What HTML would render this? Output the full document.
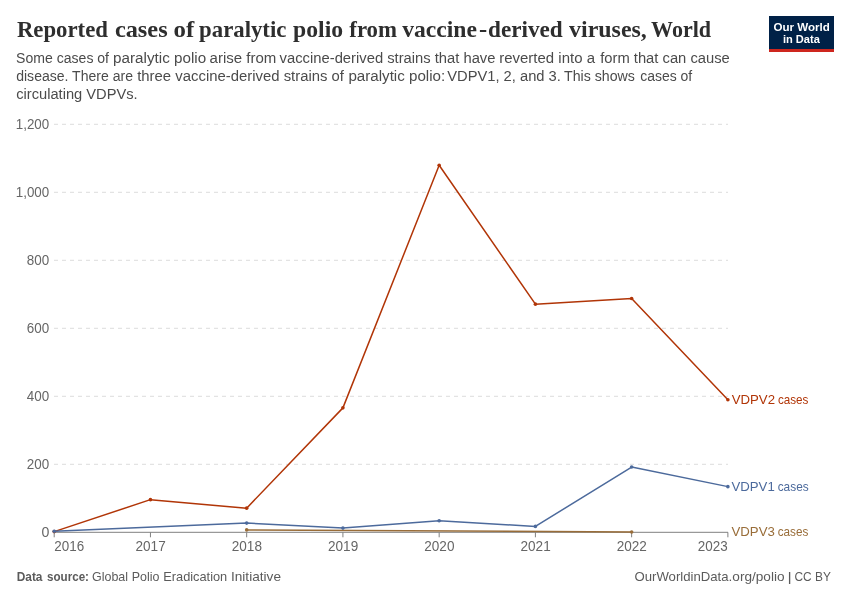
<!DOCTYPE html>
<html lang="en"><head><meta charset="utf-8"><title>Reported cases of paralytic polio from vaccine-derived viruses, World</title>
<style>
html,body{margin:0;padding:0;background:#fff;}
body{width:850px;height:600px;overflow:hidden;}
svg{display:block;}
text{font-family:"Liberation Sans",sans-serif;}
.title text{font-family:"Liberation Serif",serif;font-weight:bold;}
.b{font-weight:bold;}
</style></head><body>
<svg width="850" height="600" viewBox="0 0 850 600">
<rect width="850" height="600" fill="#fff"/>
<g class="title" font-size="24px" fill="#2e2e2e">
<text y="36.8"><tspan x="16.9" textLength="91.08" lengthAdjust="spacingAndGlyphs">Reported</tspan> <tspan x="114.9" textLength="52.74" lengthAdjust="spacingAndGlyphs">cases</tspan> <tspan x="173.5" textLength="20.66" lengthAdjust="spacingAndGlyphs">of</tspan> <tspan x="199.1" textLength="87.27" lengthAdjust="spacingAndGlyphs">paralytic</tspan> <tspan x="293.1" textLength="50" lengthAdjust="spacingAndGlyphs">polio</tspan> <tspan x="349.3" textLength="47.69" lengthAdjust="spacingAndGlyphs">from</tspan> <tspan x="402.2" textLength="74.76" lengthAdjust="spacingAndGlyphs">vaccine</tspan><tspan x="479.1" textLength="8.19" lengthAdjust="spacingAndGlyphs">-</tspan><tspan x="488.1" textLength="74.67" lengthAdjust="spacingAndGlyphs">derived</tspan> <tspan x="569.1" textLength="77.7" lengthAdjust="spacingAndGlyphs">viruses,</tspan> <tspan x="651.1" textLength="60" lengthAdjust="spacingAndGlyphs">World</tspan></text>
</g>
<g class="sub1" font-size="15.4px" fill="#4b4b4b">
<text y="62.6"><tspan x="16.1" textLength="92.94" lengthAdjust="spacingAndGlyphs">Some cases of</tspan> <tspan x="113.1" textLength="93.05" lengthAdjust="spacingAndGlyphs">paralytic polio</tspan> <tspan x="209.6" textLength="66.8" lengthAdjust="spacingAndGlyphs">arise from</tspan> <tspan x="279.6" textLength="103.54" lengthAdjust="spacingAndGlyphs">vaccine-derived</tspan> <tspan x="387.2" textLength="108.24" lengthAdjust="spacingAndGlyphs">strains that have</tspan> <tspan x="499.23" textLength="95.74" lengthAdjust="spacingAndGlyphs">reverted into a</tspan> <tspan x="600.2" textLength="129.64" lengthAdjust="spacingAndGlyphs">form that can cause</tspan></text>
</g>
<g class="sub2" font-size="15.4px" fill="#4b4b4b">
<text y="80.6"><tspan x="16.2" textLength="116.81" lengthAdjust="spacingAndGlyphs">disease. There are</tspan> <tspan x="137.2" textLength="142.44" lengthAdjust="spacingAndGlyphs">three vaccine-derived</tspan> <tspan x="283.7" textLength="60.2" lengthAdjust="spacingAndGlyphs">strains of</tspan> <tspan x="348.4" textLength="96.86" lengthAdjust="spacingAndGlyphs">paralytic polio:</tspan> <tspan x="447.2" textLength="113.72" lengthAdjust="spacingAndGlyphs">VDPV1, 2, and 3.</tspan> <tspan x="564" textLength="70.92" lengthAdjust="spacingAndGlyphs">This shows</tspan> <tspan x="640.2" textLength="52.04" lengthAdjust="spacingAndGlyphs">cases of</tspan></text>
</g>
<g class="sub3" font-size="15.4px" fill="#4b4b4b">
<text y="98.6"><tspan x="16.2" textLength="121.42" lengthAdjust="spacingAndGlyphs">circulating VDPVs.</tspan></text>
</g>
<rect x="769" y="16" width="65" height="36" fill="#002147"/><rect x="769" y="49" width="65" height="3" fill="#ce261e"/>
<g class="logo" font-size="11.8px" fill="#fff">
<text y="30.7"><tspan x="773.5" textLength="56.4" lengthAdjust="spacingAndGlyphs" class="b">Our World</tspan></text>
<text y="42.7"><tspan x="782.9" textLength="36.99" lengthAdjust="spacingAndGlyphs" class="b">in Data</tspan></text>
</g>
<line x1="54" x2="728" y1="464.3" y2="464.3" stroke="#ddd" stroke-width="1" stroke-dasharray="4,4"/>
<line x1="54" x2="728" y1="396.3" y2="396.3" stroke="#ddd" stroke-width="1" stroke-dasharray="4,4"/>
<line x1="54" x2="728" y1="328.3" y2="328.3" stroke="#ddd" stroke-width="1" stroke-dasharray="4,4"/>
<line x1="54" x2="728" y1="260.3" y2="260.3" stroke="#ddd" stroke-width="1" stroke-dasharray="4,4"/>
<line x1="54" x2="728" y1="192.3" y2="192.3" stroke="#ddd" stroke-width="1" stroke-dasharray="4,4"/>
<line x1="54" x2="728" y1="124.3" y2="124.3" stroke="#ddd" stroke-width="1" stroke-dasharray="4,4"/>
<g class="ytick" font-size="14px" fill="#666">
<text y="536.8"><tspan x="41.6" textLength="7.88" lengthAdjust="spacingAndGlyphs">0</tspan></text>
<text y="468.8"><tspan x="26.8" textLength="22.39" lengthAdjust="spacingAndGlyphs">200</tspan></text>
<text y="400.8"><tspan x="26.8" textLength="22.39" lengthAdjust="spacingAndGlyphs">400</tspan></text>
<text y="332.8"><tspan x="26.8" textLength="22.39" lengthAdjust="spacingAndGlyphs">600</tspan></text>
<text y="264.8"><tspan x="26.8" textLength="22.39" lengthAdjust="spacingAndGlyphs">800</tspan></text>
<text y="196.8"><tspan x="15.75" textLength="33.45" lengthAdjust="spacingAndGlyphs">1,000</tspan></text>
<text y="128.8"><tspan x="15.75" textLength="33.45" lengthAdjust="spacingAndGlyphs">1,200</tspan></text>
</g>
<line x1="54" x2="728" y1="532.3" y2="532.3" stroke="#808080" stroke-width="1"/>
<line x1="54.2" x2="54.2" y1="532.3" y2="537.3" stroke="#808080" stroke-width="1"/>
<line x1="150.44" x2="150.44" y1="532.3" y2="537.3" stroke="#808080" stroke-width="1"/>
<line x1="246.68" x2="246.68" y1="532.3" y2="537.3" stroke="#808080" stroke-width="1"/>
<line x1="342.92" x2="342.92" y1="532.3" y2="537.3" stroke="#808080" stroke-width="1"/>
<line x1="439.16" x2="439.16" y1="532.3" y2="537.3" stroke="#808080" stroke-width="1"/>
<line x1="535.4" x2="535.4" y1="532.3" y2="537.3" stroke="#808080" stroke-width="1"/>
<line x1="631.64" x2="631.64" y1="532.3" y2="537.3" stroke="#808080" stroke-width="1"/>
<line x1="727.88" x2="727.88" y1="532.3" y2="537.3" stroke="#808080" stroke-width="1"/>
<g class="xtick" font-size="14px" fill="#666">
<text y="550.5"><tspan x="54.3" textLength="29.89" lengthAdjust="spacingAndGlyphs">2016</tspan> <tspan x="135.54" textLength="30.19" lengthAdjust="spacingAndGlyphs">2017</tspan> <tspan x="231.78" textLength="30.19" lengthAdjust="spacingAndGlyphs">2018</tspan> <tspan x="328.02" textLength="30.19" lengthAdjust="spacingAndGlyphs">2019</tspan> <tspan x="424.26" textLength="30.19" lengthAdjust="spacingAndGlyphs">2020</tspan> <tspan x="520.5" textLength="30.19" lengthAdjust="spacingAndGlyphs">2021</tspan> <tspan x="616.74" textLength="30.19" lengthAdjust="spacingAndGlyphs">2022</tspan> <tspan x="697.8" textLength="29.89" lengthAdjust="spacingAndGlyphs">2023</tspan></text>
</g>
<polyline fill="none" stroke="#996D39" stroke-width="1.5" stroke-linejoin="round" stroke-linecap="round" points="246.68,529.92 631.64,531.96"/><circle cx="246.68" cy="529.92" r="1.8" fill="#996D39"/><circle cx="631.64" cy="531.96" r="1.8" fill="#996D39"/>
<polyline fill="none" stroke="#B13507" stroke-width="1.5" stroke-linejoin="round" stroke-linecap="round" points="54.2,531.62 150.44,499.66 246.68,508.16 342.92,407.86 439.16,165.2 535.4,304.16 631.64,298.52 727.88,399.7"/><circle cx="54.2" cy="531.62" r="1.8" fill="#B13507"/><circle cx="150.44" cy="499.66" r="1.8" fill="#B13507"/><circle cx="246.68" cy="508.16" r="1.8" fill="#B13507"/><circle cx="342.92" cy="407.86" r="1.8" fill="#B13507"/><circle cx="439.16" cy="165.2" r="1.8" fill="#B13507"/><circle cx="535.4" cy="304.16" r="1.8" fill="#B13507"/><circle cx="631.64" cy="298.52" r="1.8" fill="#B13507"/><circle cx="727.88" cy="399.7" r="1.8" fill="#B13507"/>
<polyline fill="none" stroke="#4C6A9C" stroke-width="1.5" stroke-linejoin="round" stroke-linecap="round" points="54.2,531.28 246.68,523.12 342.92,528.08 439.16,520.74 535.4,526.42 631.64,467.02 727.88,486.64"/><circle cx="54.2" cy="531.28" r="1.8" fill="#4C6A9C"/><circle cx="246.68" cy="523.12" r="1.8" fill="#4C6A9C"/><circle cx="342.92" cy="528.08" r="1.8" fill="#4C6A9C"/><circle cx="439.16" cy="520.74" r="1.8" fill="#4C6A9C"/><circle cx="535.4" cy="526.42" r="1.8" fill="#4C6A9C"/><circle cx="631.64" cy="467.02" r="1.8" fill="#4C6A9C"/><circle cx="727.88" cy="486.64" r="1.8" fill="#4C6A9C"/>
<g class="lab" font-size="13.5px" fill="#B13507">
<text y="404.3"><tspan x="731.7" textLength="43.3" lengthAdjust="spacingAndGlyphs">VDPV2</tspan> <tspan x="777.9" textLength="30.48" lengthAdjust="spacingAndGlyphs">cases</tspan></text>
<text y="491.2"><tspan x="731.5" textLength="43.25" lengthAdjust="spacingAndGlyphs" fill="#4C6A9C">VDPV1</tspan> <tspan x="777.7" textLength="30.98" lengthAdjust="spacingAndGlyphs" fill="#4C6A9C">cases</tspan></text>
<text y="536.3"><tspan x="731.5" textLength="43.3" lengthAdjust="spacingAndGlyphs" fill="#996D39">VDPV3</tspan> <tspan x="777.7" textLength="30.68" lengthAdjust="spacingAndGlyphs" fill="#996D39">cases</tspan></text>
</g>
<g class="foot" font-size="13px" fill="#5b5b5b">
<text y="580.5"><tspan x="16.7" textLength="25.8" lengthAdjust="spacingAndGlyphs" class="b">Data</tspan> <tspan x="47" textLength="41.99" lengthAdjust="spacingAndGlyphs" class="b">source:</tspan> <tspan x="92" textLength="35.99" lengthAdjust="spacingAndGlyphs">Global</tspan> <tspan x="131.74" textLength="27.68" lengthAdjust="spacingAndGlyphs">Polio</tspan> <tspan x="163.22" textLength="64.01" lengthAdjust="spacingAndGlyphs">Eradication</tspan> <tspan x="230.95" textLength="50.09" lengthAdjust="spacingAndGlyphs">Initiative</tspan> <tspan x="634.5" textLength="94.02" lengthAdjust="spacingAndGlyphs">OurWorldinData</tspan><tspan x="728.55" textLength="55.99" lengthAdjust="spacingAndGlyphs">.org/polio</tspan> <tspan x="787.55" textLength="4.22" lengthAdjust="spacingAndGlyphs">|</tspan> <tspan x="794.5" textLength="36.4" lengthAdjust="spacingAndGlyphs">CC BY</tspan></text>
</g>
</svg></body></html>
